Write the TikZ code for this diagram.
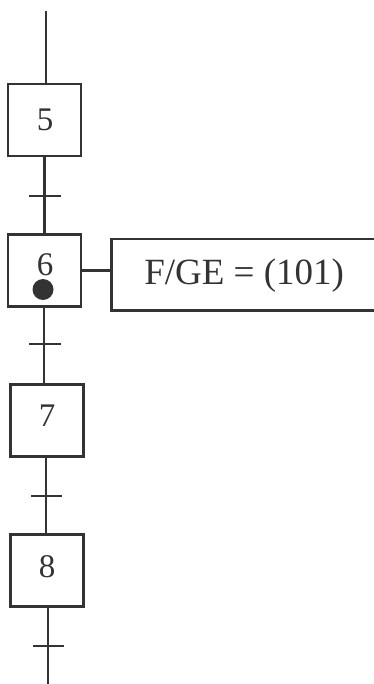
\documentclass[tikz,border=0pt]{standalone}
\usepackage{fontspec}
\setmainfont{Liberation Serif}
\begin{document}
\begin{tikzpicture}[x=1pt,y=-1pt,
  line width=2.5pt, draw=black!80, text=black!80,
  digit/.style={inner sep=0pt, anchor=base, font=\fontsize{33}{36}\selectfont},
  acttxt/.style={inner sep=0pt, anchor=base west, font=\fontsize{37}{40}\selectfont},
  stepbox/.style={draw, rectangle, inner sep=0pt, minimum width=73pt, minimum height=72pt},
  actbox/.style={draw, rectangle, inner sep=0pt, anchor=north west},
  tick/.style={line width=2.5pt}]
\useasboundingbox (0,0) rectangle (374,684);
\clip (0,0) rectangle (374,684);

% steps
\node[stepbox] (s5) at (44.5,120) {};
\node[stepbox] (s6) at (44.5,270.5) {};
\node[stepbox] (s7) at (47,420.5) {};
\node[stepbox] (s8) at (47,570.5) {};
\node[digit] (l5) at (45,131) {5};
\node[digit] (l6) at (45,275) {6};
\node[digit] (l7) at (47,426) {7};
\node[digit] (l8) at (47,577) {8};
\node[circle, fill=black!80, inner sep=0pt, minimum size=21pt] (tok) at (43,289.5) {};

% action box
\node[actbox, minimum width=280pt, minimum height=71pt] (act) at (110,238) {};
\node[acttxt] (acttext) at (143,284) {F/GE = (101)};

% link ends and transitions
\coordinate (top) at (46,11);
\coordinate (bot) at (48,684);
\coordinate (t1) at (44.5,196);
\coordinate (t2) at (44,344);
\coordinate (t3) at (46,496);
\coordinate (t4) at (48,646);

% vertical links
\draw (top) -- (top |- s5.north);
\draw (s5.south) -- (s6.north);
\draw (t2 |- s6.south) -- (t2 |- s7.north);
\draw (t3 |- s7.south) -- (t3 |- s8.north);
\draw (bot |- s8.south) -- (bot);

% transition marks
\draw[tick] ([xshift=-16pt]t1) -- ([xshift=16pt]t1);
\draw[tick] ([xshift=-15pt]t2) -- ([xshift=17pt]t2);
\draw[tick] ([xshift=-15pt]t3) -- ([xshift=16pt]t3);
\draw[tick] ([xshift=-15pt]t4) -- ([xshift=16pt]t4);

% step to action
\draw (s6.east) -- (s6.east -| act.west);
\end{tikzpicture}
\end{document}
